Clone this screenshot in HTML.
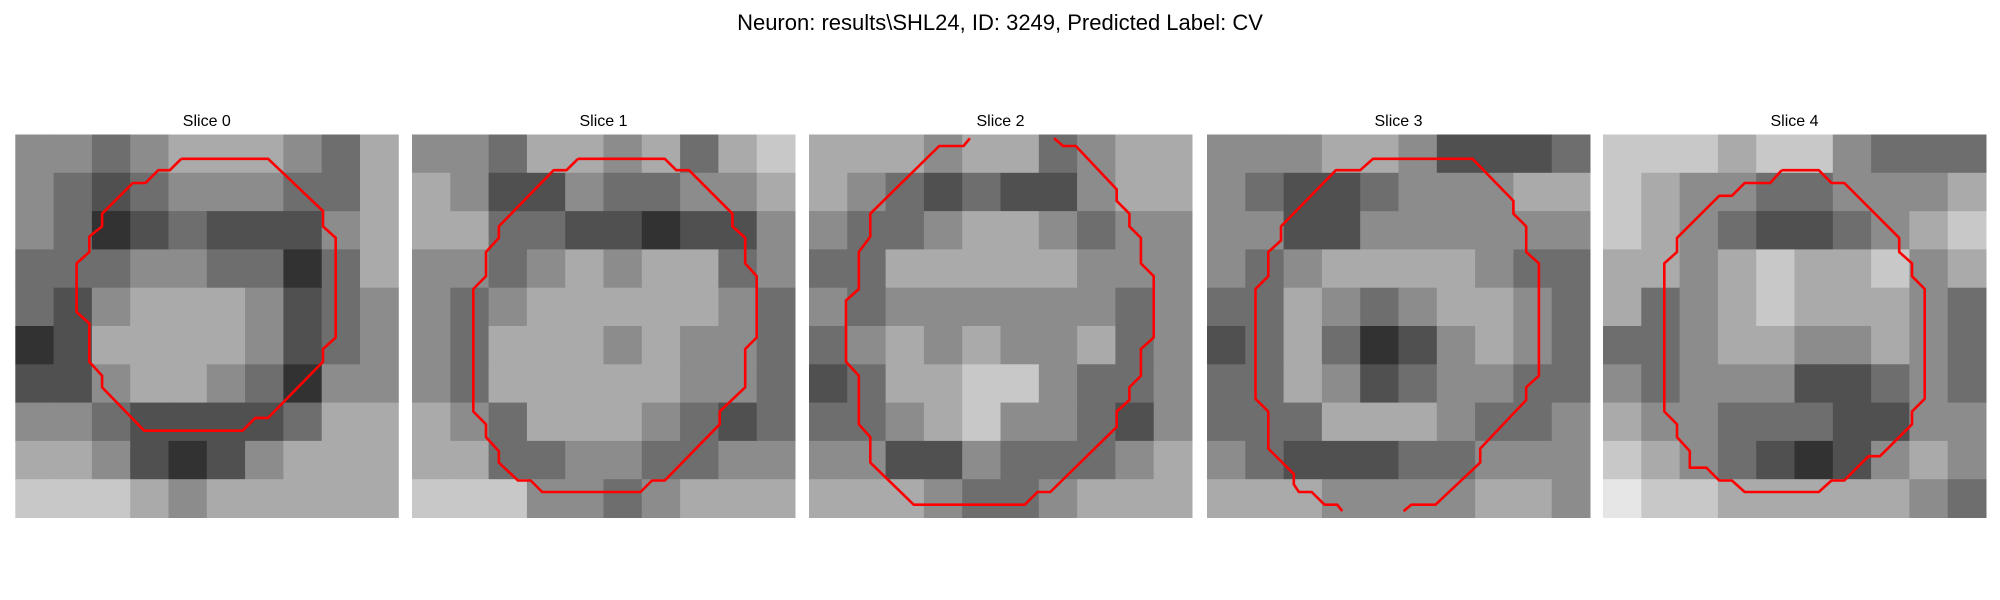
<!DOCTYPE html>
<html><head><meta charset="utf-8">
<style>
html,body{margin:0;padding:0;background:#fff;}
svg{display:block;font-family:"Liberation Sans","DejaVu Sans",sans-serif;}
</style></head>
<body>
<svg id="fig" width="2000" height="600" viewBox="0 0 2000 600" xmlns="http://www.w3.org/2000/svg">
<text x="1000" y="30" text-anchor="middle" font-size="22" fill="#000">Neuron: results\SHL24, ID: 3249, Predicted Label: CV</text>
<g id="panels"></g>
</svg>
<script>
const sliceTitles = ["Slice 0","Slice 1","Slice 2","Slice 3","Slice 4"];
// coarse 10x10 intensity estimates (0 dark .. 9 light) per slice
const grid0 = ["5545666546","5434555446","5423433356","4445544246","4356665345","2366665345","3356654255","5543333466","6653235666","7776566666"];
const grid1 = ["5546656467","6533544556","6644332335","5545656645","5456666654","5466656554","5466666554","6546665434","6644554455","7775545666"];
const grid2 = ["6665664566","6543433566","5445665455","4466666555","5455555545","4565655645","3466775445","4456755435","5533544456","6665445666"];
const grid3 = ["5556653334","5433455566","5533555555","5456666544","4465456654","3464235654","4465345544","4446665445","5433344555","6665555665"];
const grid4 = ["7776775444","7655445556","7654334567","6656766756","6456766654","4456655654","5455533454","6554443355","7654323565","8776666654"];
const grids = [grid0,grid1,grid2,grid3,grid4];
// contour vertices in pixel-grid units (0..30)
const contour0 = [[13,1.9],[19.8,1.9],[24.1,6],[24.1,7.2],[25.1,8.1],[25.1,15.9],[24.1,16.8],[24.1,17.8],[19.8,22.2],[18.8,22.2],[17.8,23.2],[10.1,23.2],[6.8,19.8],[6.8,18.9],[5.8,17.8],[5.8,14.8],[4.8,13.9],[4.8,10.1],[5.8,9.2],[5.8,8],[6.8,7.2],[6.8,6.2],[9.2,3.8],[10.2,3.8],[11.2,2.8],[12.1,2.8],[13,1.9]];
const contour1 = [[13,1.9],[19.8,1.9],[20.7,2.8],[21.7,2.8],[25.1,6.2],[25.1,7.2],[26.1,8.1],[26.1,10.1],[27,11.1],[27,15.9],[26.1,16.8],[26.1,19.8],[24.1,21.7],[24.1,22.7],[19.8,27.1],[18.8,27.1],[17.9,28],[10.2,28],[9.3,27.1],[8.3,27.1],[6.8,25.7],[6.8,24.8],[5.8,23.7],[5.8,22.7],[4.8,21.7],[4.8,12.1],[5.8,11.1],[5.8,9.2],[6.8,8.1],[6.8,7.2],[11.1,2.8],[12.1,2.8],[13,1.9]];
const contour2 = [[12.6,0.3],[12.1,0.9],[10.2,0.9],[4.8,6.2],[4.8,8],[3.9,9.2],[3.9,12.1],[2.9,13],[2.9,17.8],[3.9,18.9],[3.9,22.7],[4.8,23.7],[4.8,25.7],[8.2,29],[16.9,29],[17.9,28],[18.9,28],[24.1,22.9],[24.1,21.7],[25.1,20.8],[25.1,19.8],[26,18.9],[26,16.8],[27,15.9],[27,11.1],[26,10.1],[26,8.1],[25.1,7.2],[25.1,6.2],[24.1,5.2],[24.1,4.3],[20.9,0.9],[19.9,0.9],[19.2,0.3]];
const contour3 = [[10.6,29.5],[10.2,29],[9.2,29],[8.2,28],[7.2,28],[6.8,27.4],[6.8,26.6],[4.8,24.6],[4.8,21.7],[3.8,20.7],[3.8,12.1],[4.8,11.1],[4.8,9.2],[5.8,8.3],[5.8,7.2],[10.1,2.8],[12,2.8],[13,1.9],[20.8,1.9],[24,5.2],[24,6.2],[25,7.2],[25,9.2],[26,10.1],[26,18.9],[25,19.8],[25,20.8],[21.4,24.6],[21.4,25.7],[17.9,29],[16,29],[15.4,29.5]];
const contour4 = [[14,2.8],[16.9,2.8],[17.9,3.8],[18.9,3.8],[23.2,8.1],[23.2,9.2],[24.2,10.1],[24.2,11.1],[25.2,12.1],[25.2,20.7],[24.2,21.7],[24.2,22.7],[21.7,25.2],[20.8,25.2],[18.9,27.1],[17.9,27.1],[16.9,28],[11.1,28],[10.1,27.1],[9.1,27.1],[8.1,26.1],[6.8,26.1],[6.8,24.8],[5.8,23.7],[5.8,22.7],[4.8,21.7],[4.8,10.1],[5.8,9.2],[5.8,8.1],[9.1,4.8],[10.1,4.8],[11.1,3.8],[13.1,3.8],[14,2.8]];
const contours = [contour0,contour1,contour2,contour3,contour4];

const NS = "http://www.w3.org/2000/svg";
const panelX = [15.3, 412, 809, 1207, 1603];
const panelY = 134.5, panelSize = 383, gridN = 30;
const root = document.getElementById('panels');
function sx(p, v){ return panelX[p] + v * panelSize / gridN; }
function sy(v){ return panelY + v * panelSize / gridN; }
function grayOf(v){ const g = Math.max(0, Math.min(255, Math.round(140 + (v - 5) * 30))); return `rgb(${g},${g},${g})`; }

for (let p = 0; p < 5; p++) {
  const g = document.createElementNS(NS, 'g');
  
  
  root.appendChild(g);

  const t = document.createElementNS(NS, 'text');
  
  
  t.setAttribute('x', panelX[p] + panelSize / 2);
  t.setAttribute('y', 126);
  t.setAttribute('text-anchor', 'middle');
  t.setAttribute('font-size', '16');
  t.textContent = sliceTitles[p];
  g.appendChild(t);

  const cp = document.createElementNS(NS, 'clipPath');
  cp.setAttribute('id', 'clip' + p);
  const cr = document.createElementNS(NS, 'rect');
  cr.setAttribute('x', panelX[p]); cr.setAttribute('y', panelY);
  cr.setAttribute('width', panelSize); cr.setAttribute('height', panelSize);
  cp.appendChild(cr); g.appendChild(cp);

  const img = document.createElementNS(NS, 'g');
  
  
  g.appendChild(img);
  const rows = grids[p];
  const n = rows.length, cell = gridN / n;
  for (let r = 0; r < n; r++) {
    for (let c = 0; c < rows[r].length; c++) {
      const v = +rows[r][c];
      const rc = document.createElementNS(NS, 'rect');
      
      
      const x0 = sx(p, c * cell), y0 = sy(r * cell);
      rc.setAttribute('x', x0); rc.setAttribute('y', y0);
      rc.setAttribute('width', sx(p, (c + 1) * cell) - x0 + 0.5);
      rc.setAttribute('height', sy((r + 1) * cell) - y0 + 0.5);
      rc.setAttribute('fill', grayOf(v));
      img.appendChild(rc);
    }
  }

  const pl = document.createElementNS(NS, 'polyline');
  
  
  pl.setAttribute('points', contours[p].map(q => sx(p, q[0]).toFixed(1) + ',' + sy(q[1]).toFixed(1)).join(' '));
  pl.setAttribute('fill', 'none');
  pl.setAttribute('stroke', '#ff0000');
  pl.setAttribute('stroke-width', '2.6');
  pl.setAttribute('stroke-linejoin', 'round');
  pl.setAttribute('clip-path', 'url(#clip' + p + ')');
  g.appendChild(pl);
}
</script>
</body></html>
